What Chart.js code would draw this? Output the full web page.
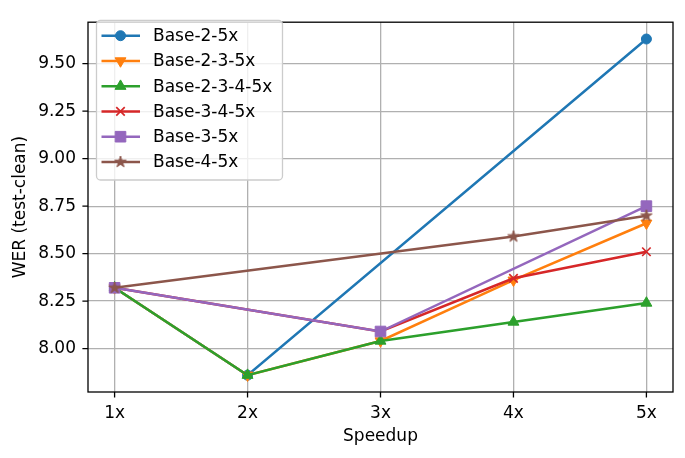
<!DOCTYPE html>
<html>
<head>
<meta charset="utf-8">
<script src="https://cdn.jsdelivr.net/npm/chart.js@4.4.0/dist/chart.umd.min.js"></script>
<style>
  html, body { margin: 0; padding: 0; background: #fff; }
  #wrap { width: 685px; height: 458px; }
</style>
</head>
<body>
<div id="wrap"><canvas id="chart" width="685" height="458"></canvas></div>
<script>
// ── Data ───────────────────────────────────────────────────────────────────
const categories = ["1x", "2x", "3x", "4x", "5x"];
const base25     = [8.32, 7.86, null, null, 9.63];
const base235    = [8.32, 7.86, 8.04, 8.36, 8.66];
const base2345   = [8.32, 7.86, 8.04, 8.14, 8.24];
const base345    = [8.32, null, 8.09, 8.37, 8.51];
const base35     = [8.32, null, 8.09, null, 8.75];
const base45     = [8.32, null, null, 8.59, 8.70];
const yTicks     = [8.00, 8.25, 8.50, 8.75, 9.00, 9.25, 9.50];

const FONT = "'DejaVu Sans', sans-serif";
const GRID = "#b0b0b0";

// ── Helpers ────────────────────────────────────────────────────────────────

function toPoints(arr) {
  return arr.map((v, i) => ({ x: i, y: v })).filter(p => p.y != null);
}

// filled five-point star, like matplotlib's "*"
function starImage(color, r) {
  const c = document.createElement("canvas");
  const s = Math.ceil(r * 2 + 4);
  c.width = c.height = s;
  const g = c.getContext("2d");
  g.translate(s / 2, s / 2);
  g.beginPath();
  for (let k = 0; k < 10; k++) {
    const a = -Math.PI / 2 + k * Math.PI / 5;
    const rad = k % 2 ? r * 0.382 : r;
    g.lineTo(Math.cos(a) * rad, Math.sin(a) * rad);
  }
  g.closePath();
  g.fillStyle = color;
  g.fill();
  g.strokeStyle = color;
  g.lineWidth = 1;
  g.stroke();
  return c;
}

function mkSeries(label, values, color, style, radius, extra = {}) {
  return Object.assign({
    label,
    data: toPoints(values),
    borderColor: color,
    backgroundColor: color,
    pointBackgroundColor: color,
    pointBorderColor: color,
    borderWidth: 2.5,
    pointBorderWidth: 1,
    pointStyle: style,
    pointRadius: radius,
    tension: 0,
    spanGaps: true,
    fill: false,
  }, extra);
}

const series = [
  mkSeries("Base-2-5x",     base25,   "#1f77b4", "circle",   5),
  mkSeries("Base-2-3-5x",   base235,  "#ff7f0e", "triangle", 6.3, { pointRotation: 180 }),
  mkSeries("Base-2-3-4-5x", base2345, "#2ca02c", "triangle", 6.3),
  mkSeries("Base-3-4-5x",   base345,  "#d62728", "crossRot", 6,   { pointBorderWidth: 1.7 }),
  mkSeries("Base-3-5x",     base35,   "#9467bd", "rect",     7.5),
  mkSeries("Base-4-5x",     base45,   "#8c564b", starImage("#8c564b", 6), 6),
];
// matplotlib draws the last series on top
series.forEach((s, i) => { s.order = series.length - i; });

// ── Plugins: frame, tick marks, legend box ─────────────────────────────────

const framePlugin = {
  id: "frame",
  afterDatasetsDraw(chart) {
    const { ctx, chartArea: a, scales } = chart;
    ctx.save();
    ctx.strokeStyle = "#000";
    ctx.lineWidth = 1.3;
    ctx.strokeRect(a.left, a.top, a.right - a.left, a.bottom - a.top);
    ctx.beginPath();
    scales.x.ticks.forEach(t => {
      const x = scales.x.getPixelForValue(t.value);
      ctx.moveTo(x, a.bottom); ctx.lineTo(x, a.bottom + 5.6);
    });
    scales.y.ticks.forEach(t => {
      const y = scales.y.getPixelForValue(t.value);
      ctx.moveTo(a.left - 5.6, y); ctx.lineTo(a.left, y);
    });
    ctx.stroke();
    ctx.restore();
  },
};

const legendPlugin = {
  id: "mplLegend",
  afterDraw(chart) {
    const ctx = chart.ctx;
    const box = { x: 96.5, y: 20.5, w: 186, h: 159.5 };
    ctx.save();
    ctx.beginPath();
    ctx.roundRect(box.x, box.y, box.w, box.h, 4);
    ctx.fillStyle = "rgba(255,255,255,0.8)";
    ctx.fill();
    ctx.strokeStyle = "#cccccc";
    ctx.lineWidth = 1.3;
    ctx.stroke();

    chart.data.datasets.forEach((ds, i) => {
      const y = 35.7 + i * 25.25;
      ctx.strokeStyle = ds.borderColor;
      ctx.lineWidth = ds.borderWidth;
      ctx.beginPath();
      ctx.moveTo(101.5, y); ctx.lineTo(140, y);
      ctx.stroke();

      ctx.fillStyle = ds.pointBackgroundColor;
      ctx.strokeStyle = ds.pointBorderColor;
      ctx.lineWidth = ds.pointBorderWidth;
      Chart.helpers.drawPoint(ctx, {
        pointStyle: ds.pointStyle,
        rotation: ds.pointRotation || 0,
        radius: ds.pointRadius,
        borderWidth: ds.pointBorderWidth,
      }, 120.5, y);

      ctx.fillStyle = "#000";
      ctx.font = `17px ${FONT}`;
      ctx.textBaseline = "middle";
      ctx.textAlign = "left";
      ctx.fillText(ds.label, 153, y + 1);
    });
    ctx.restore();
  },
};

// ── Chart ──────────────────────────────────────────────────────────────────

new Chart(document.getElementById("chart").getContext("2d"), {
  type: "line",
  data: { datasets: series },
  options: {
    responsive: false,
    animation: false,
    events: [],
    layout: { padding: { top: 12, right: 12, left: 0, bottom: 0 } },
    plugins: {
      legend: { display: false },
      tooltip: { enabled: false },
    },
    scales: {
      x: {
        type: "linear",
        min: -0.2,
        max: 4.2,
        afterBuildTicks: s => { s.ticks = categories.map((_, i) => ({ value: i })); },
        afterFit: s => { s.height = 66; },
        grid: { color: GRID, lineWidth: 1.3, drawTicks: false },
        border: { display: false },
        ticks: {
          color: "#000",
          padding: 11,
          maxRotation: 0,
          font: { family: FONT, size: 17 },
          callback: v => categories[v] ?? "",
        },
        title: {
          display: true,
          text: "Speedup",
          color: "#000",
          font: { family: FONT, size: 17 },
          padding: { top: 0, bottom: 11 },
        },
      },
      y: {
        type: "linear",
        min: 7.7715,
        max: 9.7185,
        afterBuildTicks: s => { s.ticks = yTicks.map(v => ({ value: v })); },
        afterFit: s => { s.width = 88; },
        grid: { color: GRID, lineWidth: 1.3, drawTicks: false },
        border: { display: false },
        ticks: {
          color: "#000",
          padding: 12,
          font: { family: FONT, size: 17 },
          callback: v => Number(v).toFixed(2),
        },
        title: {
          display: true,
          text: "WER (test-clean)",
          color: "#000",
          font: { family: FONT, size: 17 },
          padding: { top: 10, bottom: 0 },
        },
      },
    },
  },
  plugins: [framePlugin, legendPlugin],
});
</script>
</body>
</html>
